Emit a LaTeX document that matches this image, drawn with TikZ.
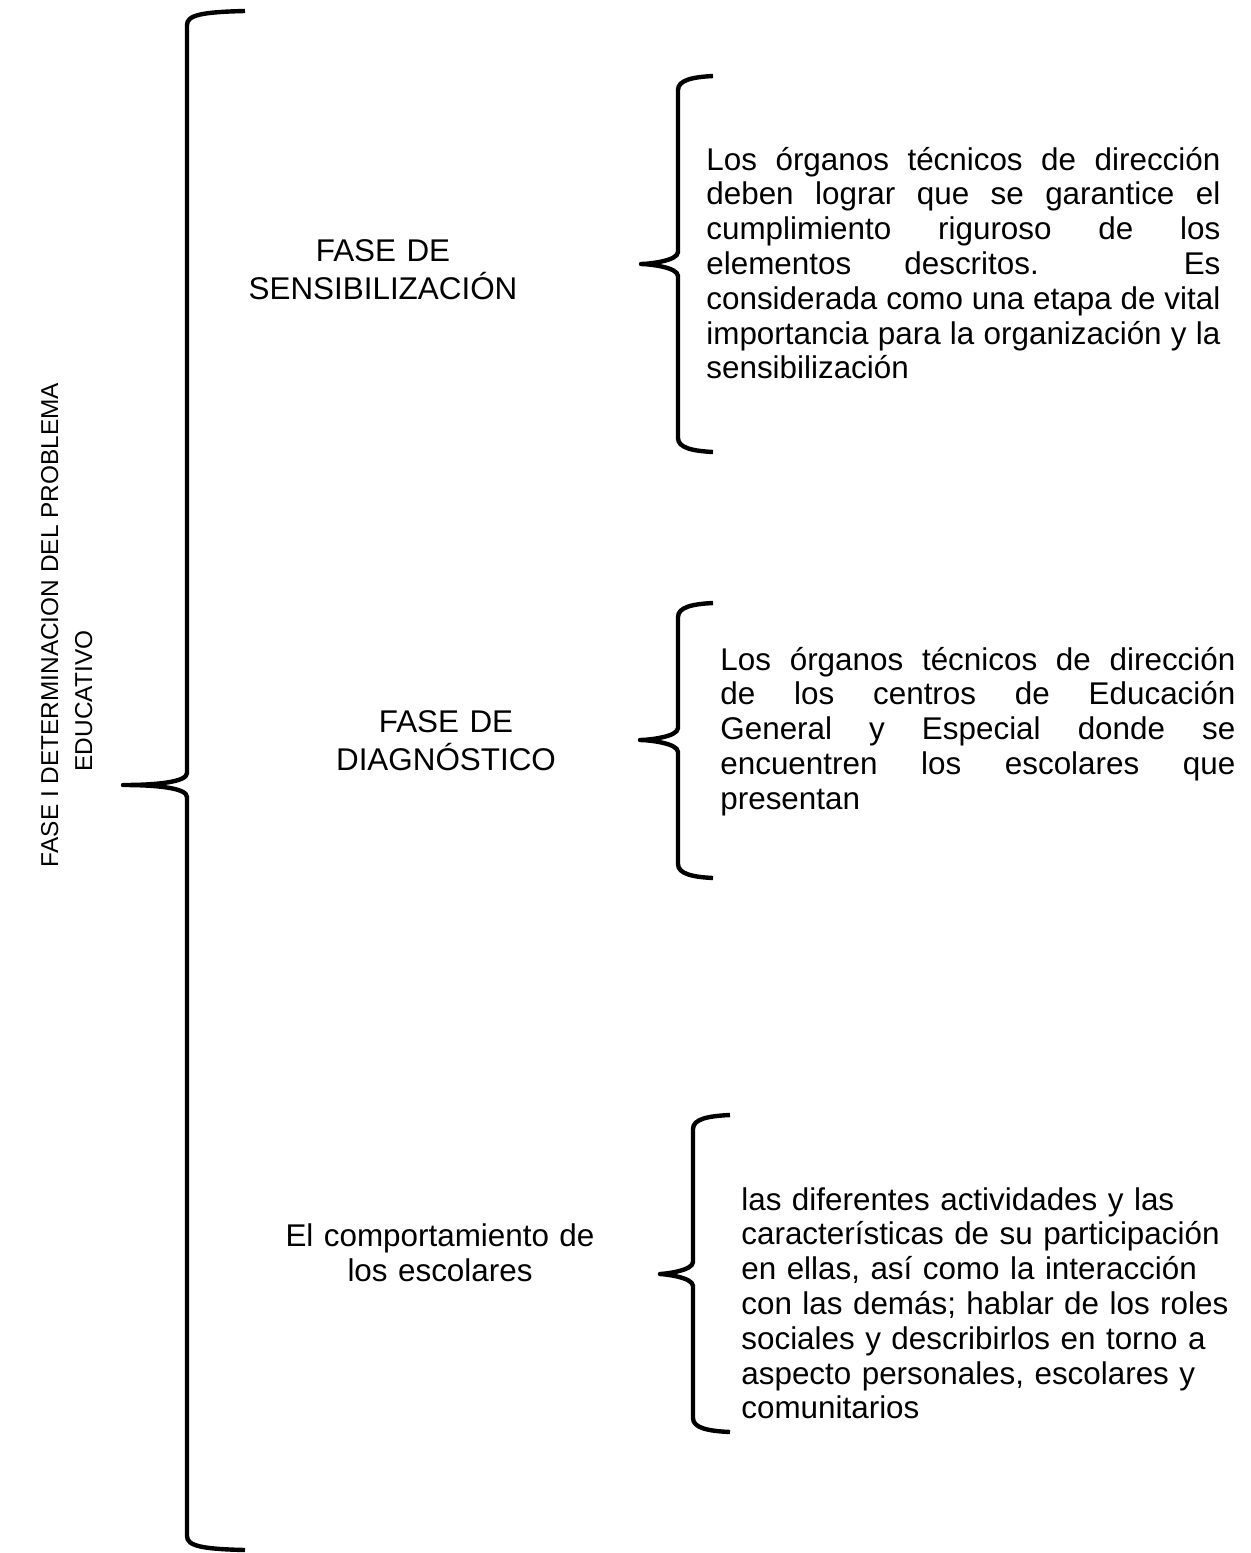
\documentclass[tikz,border=0pt]{standalone}
\usepackage{fontspec}
\setmainfont{Liberation Sans}
\newcommand\wordbrace[6]{%
  \draw[bracestyle] (#6,#2) .. controls (#1+15,#2+1) and (#1,#2+4) .. (#1,#2+14)
    -- (#1,#3-12) .. controls (#1,#3-3) and (#1-30,#3) .. (#5,#3)
    .. controls (#1-30,#3) and (#1,#3+3) .. (#1,#3+12)
    -- (#1,#4-14) .. controls (#1,#4-4) and (#1+15,#4-1) .. (#6,#4);}
\begin{document}
\begin{tikzpicture}[x=0.5pt,y=-0.5pt,
  bracestyle/.style={line width=2.2pt,line join=round,line cap=butt},
  bodytext/.style={inner sep=0pt,font=\fontsize{15.7pt}{17.4pt}\selectfont},
  label/.style={inner sep=0pt,font=\fontsize{15.7pt}{19pt}\selectfont,anchor=base,text width=170pt,align=center},
  desc/.style={bodytext,anchor=base west,align=justify},
  titletext/.style={inner sep=0pt,anchor=base,rotate=90,font=\fontsize{12.2pt}{15pt}\selectfont}]
\useasboundingbox (0,0) rectangle (1251,1553);
% braces
\wordbrace{187}{11}{785}{1550}{123}{245}
\wordbrace{678}{76}{264}{452}{641}{713}
\wordbrace{678}{603}{740}{878}{640}{713}
\wordbrace{693}{1115}{1274}{1432}{660}{730}
% title
\node[titletext] (title1) at (58,625) {FASE I DETERMINACION DEL PROBLEMA};
\node[titletext] (title2) at (92,701) {EDUCATIVO};
% labels
\node[label] (sens) at (383,261) {FASE DE\\SENSIBILIZACIÓN};
\node[label] (diag) at (446,732) {FASE DE\hspace*{16pt}\\DIAGNÓSTICO};
\node[label,font=\fontsize{15.7pt}{17.5pt}\selectfont] (comp) at (440,1246) {El comportamiento de\\los escolares};
% descriptions
\node[desc,text width=257pt] (d1) at (706,170) {Los órganos técnicos de dirección\linebreak deben lograr que se garantice el\linebreak cumplimiento riguroso de los\linebreak elementos descritos. Es\linebreak considerada como una etapa de vital\linebreak importancia para la organización y la\linebreak sensibilización};
\node[desc,text width=257.5pt] (d2) at (720,670) {Los órganos técnicos de dirección\linebreak de los centros de Educación\linebreak General y Especial donde se\linebreak encuentren los escolares que\linebreak presentan};
\node[desc,text width=256pt,align=left] (d3) at (741,1210) {las diferentes actividades y las\\características de su participación\\en ellas, así como la interacción\\con las demás; hablar de los roles\\sociales y describirlos en torno a\\aspecto personales, escolares y\\comunitarios};
\end{tikzpicture}
\end{document}
